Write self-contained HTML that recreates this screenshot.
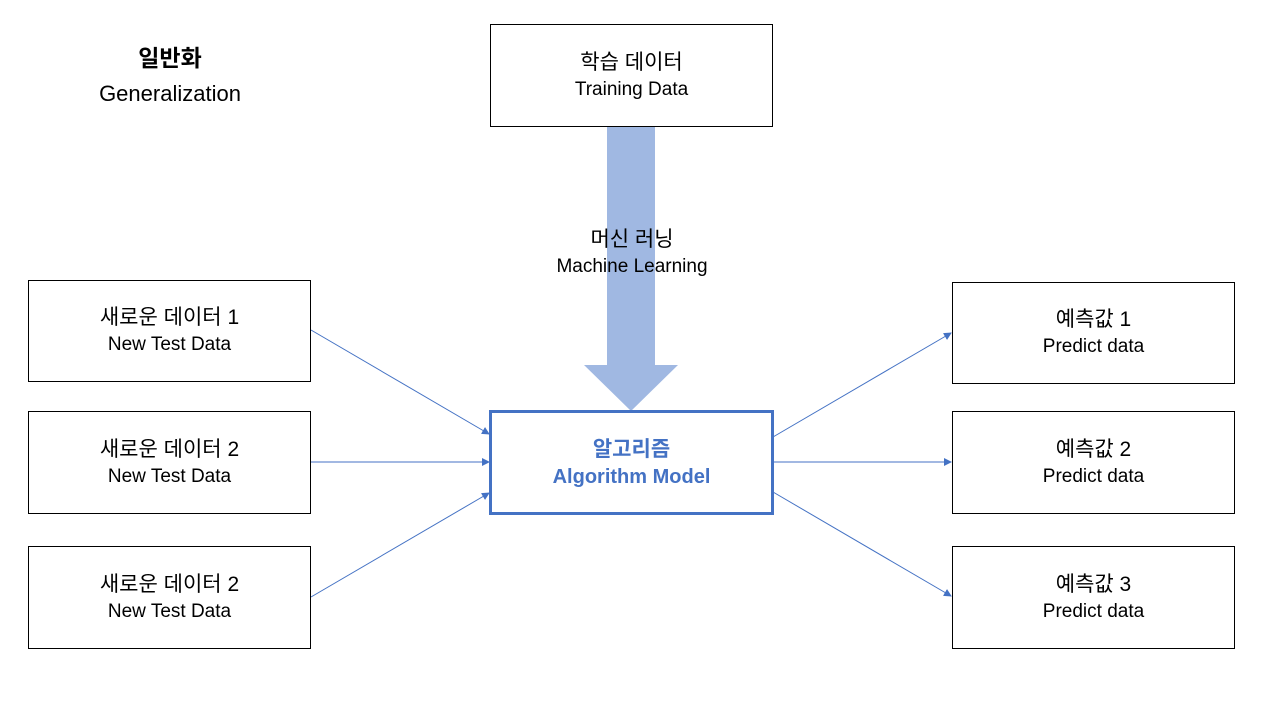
<!DOCTYPE html>
<html><head><meta charset="utf-8"><style>
body{margin:0;width:1280px;height:720px;background:#fff;position:relative;overflow:hidden;font-family:"Liberation Sans","Noto Sans CJK KR",sans-serif;}
.b{position:absolute;box-sizing:border-box;border:1px solid #000;background:#fff;display:flex;flex-direction:column;align-items:center;justify-content:center;text-align:center;color:#000;}
.k{font-size:21px;line-height:28px;}
.e{font-size:19px;line-height:26px;}
.t{position:absolute;text-align:center;}
</style></head><body>
<svg width="1280" height="720" style="position:absolute;left:0;top:0">
<defs><marker id="a" markerWidth="8" markerHeight="8" refX="7" refY="4" orient="auto" markerUnits="userSpaceOnUse"><path d="M0,0 L8,4 L0,8 z" fill="#4472c4"/></marker></defs>
<polygon points="607,127 655,127 655,365 678,365 631,411 584,365 607,365" fill="#a0b8e2"/>
<g stroke="#4472c4" stroke-width="1" marker-end="url(#a)">
<line x1="311" y1="330" x2="489" y2="434"/>
<line x1="311" y1="462" x2="489" y2="462"/>
<line x1="311" y1="597" x2="489" y2="493"/>
<line x1="773" y1="437" x2="951" y2="333"/>
<line x1="773" y1="462" x2="951" y2="462"/>
<line x1="773" y1="492" x2="951" y2="596"/>
</g>
</svg>
<div class="t" style="left:70px;top:42px;width:200px;font-size:23px;font-weight:bold;line-height:32px">일반화</div>
<div class="t" style="left:50px;top:80px;width:240px;font-size:22px;line-height:28px">Generalization</div>
<div class="b" style="left:490px;top:24px;width:283px;height:103px"><div class="k">학습 데이터</div><div class="e">Training Data</div></div>
<div class="t" style="left:482px;top:226px;width:300px"><div class="k">머신 러닝</div><div class="e">Machine Learning</div></div>
<div class="b" style="left:28px;top:280px;width:283px;height:102px"><div class="k">새로운 데이터 1</div><div class="e">New Test Data</div></div>
<div class="b" style="left:28px;top:411px;width:283px;height:103px"><div class="k">새로운 데이터 2</div><div class="e">New Test Data</div></div>
<div class="b" style="left:28px;top:546px;width:283px;height:103px"><div class="k">새로운 데이터 2</div><div class="e">New Test Data</div></div>
<div class="b" style="left:489px;top:410px;width:285px;height:105px;border:3px solid #4472c4;color:#4472c4;font-weight:bold"><div class="k">알고리즘</div><div class="e" style="font-size:20px">Algorithm Model</div></div>
<div class="b" style="left:952px;top:282px;width:283px;height:102px"><div class="k">예측값 1</div><div class="e">Predict data</div></div>
<div class="b" style="left:952px;top:411px;width:283px;height:103px"><div class="k">예측값 2</div><div class="e">Predict data</div></div>
<div class="b" style="left:952px;top:546px;width:283px;height:103px"><div class="k">예측값 3</div><div class="e">Predict data</div></div>
</body></html>
